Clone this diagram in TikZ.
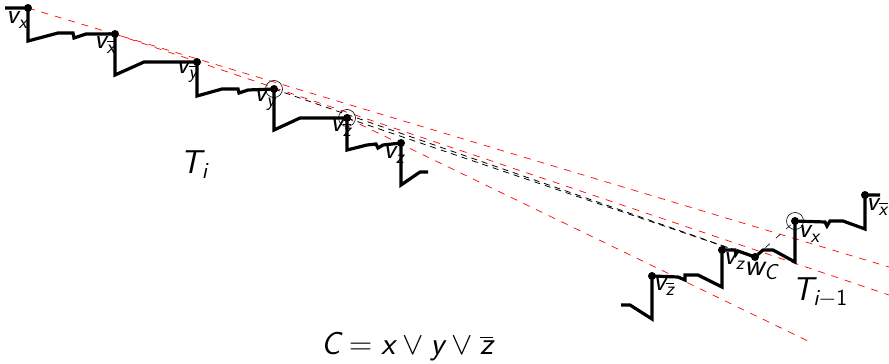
\RequirePackage{fix-cm}
\documentclass[tikz,border=0pt]{standalone}
\usepackage{amsmath}
\newcommand{\sv}[1]{\textsf{\slshape #1}}
\begin{document}
\begin{tikzpicture}[x=1pt,y=-1pt,
  stair/.style={line width=3.2pt, line join=miter},
  dotv/.style={circle, fill=black, inner sep=0pt, minimum size=8pt},
  ring/.style={circle, draw=black, line width=0.6pt, inner sep=0pt, minimum size=17pt},
  redline/.style={red, line width=0.7pt, dash pattern=on 7pt off 7pt},
  blkdash/.style={black, line width=0.8pt, dash pattern=on 6pt off 5pt},
  thindash/.style={black, line width=0.6pt, dash pattern=on 6pt off 8pt},
  lab/.style={inner sep=0pt, font=\fontsize{28}{29}\selectfont},
  wlab/.style={inner sep=0pt, font=\fontsize{31}{32}\selectfont},
  biglab/.style={inner sep=0pt, font=\fontsize{33}{34}\selectfont},
]
\useasboundingbox (0,0) rectangle (889,364);

% vertices of the left staircase T_i
\coordinate (xL) at (28,8);
\coordinate (xbL) at (115,34);
\coordinate (ybL) at (197,62);
\coordinate (yL) at (274,89);
\coordinate (zbL) at (347,118);
\coordinate (zL) at (401,143);
% vertices of the right staircase T_{i-1}
\coordinate (zbR) at (652,276);
\coordinate (zR) at (722,250);
\coordinate (wC) at (755,257);
\coordinate (xR) at (795,221);
\coordinate (xbR) at (865,195);
% free ends of the red lines
\coordinate (eA) at (889,267);
\coordinate (eB) at (889,295);
\coordinate (eC) at (810,342);

% red dashed lines
\draw[redline] (xL) -- (eA);
\draw[redline] (xbL) -- (eB);
\draw[redline] (zbL) -- (eC);

% black dashed lines
\draw[blkdash] (yL) -- (wC);
\draw[blkdash] (zbL) -- (wC);
\draw[thindash] (wC) -- (xR);

% left staircase
\draw[stair] (5,8) -- (xL) -- (28,41) -- (58,33) -- (73,33) -- (74,38) -- (86,34) -- (xbL)
  -- (115,75) -- (144,62) -- (ybL)
  -- (197,96) -- (222,89) -- (238,89) -- (239,93) -- (248,90) -- (yL)
  -- (274,130) -- (300,118) -- (zbL)
  -- (347,150) -- (367,145) -- (376,144) -- (378,148) -- (383,145) -- (zL)
  -- (401,185) -- (420,172) -- (428,172);

% right staircase
\draw[stair] (621,305) -- (630,305) -- (652,319) -- (zbR)
  -- (678,277) -- (685,280) -- (685,275) -- (698,275) -- (722,287) -- (zR)
  -- (735,250) -- (736,254) -- (738,251) -- (wC)
  -- (763,250) -- (773,250) -- (795,262) -- (xR)
  -- (825,222) -- (827,226) -- (830,221) -- (843,221) -- (865,229) -- (xbR)
  -- (880,195);

% dots
\foreach \p in {xL,xbL,ybL,yL,zbL,zL,zbR,zR,wC,xR,xbR}
  \node[dotv] (d\p) at (\p) {};
\node[ring] (rY) at (yL) {};
\node[ring] (rZ) at (zbL) {};
\node[ring] (rX) at (xR) {};

% labels
\node[lab] (lxL) at (17,20) {$\sv{v}_{\sv{x}}$};
\node[lab] (lxbL) at (105,45) {$\sv{v}_{\overline{\sv{x}}}$};
\node[lab] (lybL) at (187,72) {$\sv{v}_{\overline{\sv{y}}}$};
\node[lab] (lyL) at (265,100) {$\sv{v}_{\sv{y}}$};
\node[lab] (lzbL) at (341,128) {$\sv{v}_{\overline{\sv{z}}}$};
\node[lab] (lzL) at (394,155) {$\sv{v}_{\sv{z}}$};
\node[lab] (lzbR) at (664,287) {$\sv{v}_{\overline{\sv{z}}}$};
\node[lab] (lzR) at (734,261) {$\sv{v}_{\sv{z}}$};
\node[wlab] (lwC) at (761,271) {$\sv{w}_{\sv{C}}$};
\node[lab] (lxR) at (809,234) {$\sv{v}_{\sv{x}}$};
\node[lab] (lxbR) at (877,207) {$\sv{v}_{\overline{\sv{x}}}$};
\node[biglab] (Ti) at (194,165) {$\sv{T}_{\sv{i}}$};
\node[biglab] (Tim) at (820,293) {$\sv{T}_{\sv{i}-\textsf{1}}$};
\node[inner sep=0pt, font=\fontsize{32}{33}\selectfont] (clause) at (407,347) {$\sv{C} = \sv{x} \vee \sv{y} \vee \overline{\sv{z}}$};
\end{tikzpicture}
\end{document}
